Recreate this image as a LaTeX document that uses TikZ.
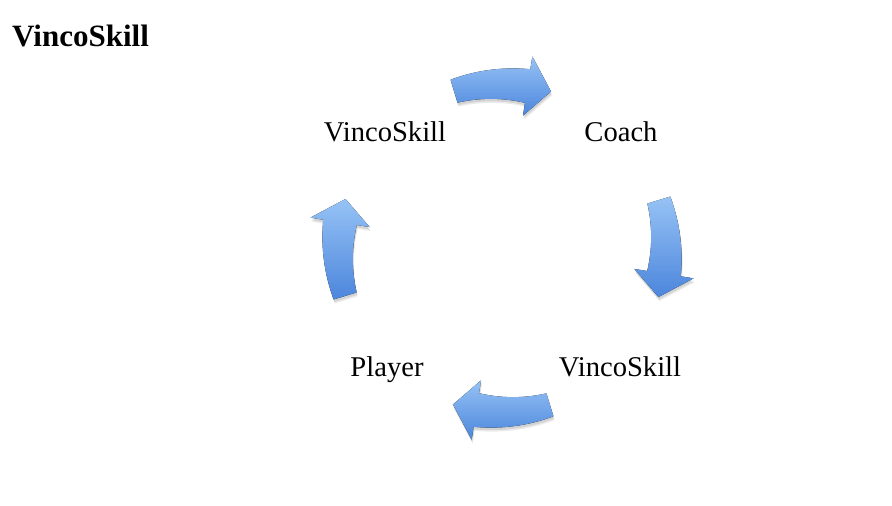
\documentclass[tikz,border=0pt]{standalone}
\usepackage{fontspec}
\setmainfont{Liberation Serif}
\definecolor{arrtop}{RGB}{150,194,245}
\definecolor{arrbot}{RGB}{76,134,220}
\tikzset{
  arrowfill/.style={top color=arrtop, bottom color=arrbot,
    preaction={fill=black, opacity=0.08, transform canvas={xshift=1pt, yshift=-4pt}},
    preaction={fill=black, opacity=0.10, transform canvas={xshift=0.5pt, yshift=-2.5pt}}},
  lbl/.style={anchor=base, inner sep=0pt, font=\fontsize{28.6}{32}\selectfont},
  ttl/.style={anchor=base west, inner sep=0pt, font=\fontsize{31}{34}\selectfont\bfseries}
}
\newcommand\cycarrow[1]{%
  \pgfmathsetmacro\ta{#1+17}%
  \pgfmathsetmacro\ba{#1-9}%
  \pgfmathsetmacro\pa{#1-17.4}%
  \fill[arrowfill] plot[domain=\ta:\ba, samples=30] (\x:{176+5*(\ta-\x)/26})
    -- (\ba:194) -- (\pa:164) -- (\ba:134) -- (\ba:147)
    -- plot[domain=\ba:\ta, samples=30] (\x:{152-5*(\ta-\x)/26}) -- cycle;
}
\begin{document}
\begin{tikzpicture}[x=1pt,y=1pt]
\useasboundingbox (0,0) rectangle (892,506);
\fill[white] (0,0) rectangle (892,506);
\begin{scope}[shift={(502,258)}]
  \cycarrow{90}
  \cycarrow{0}
  \cycarrow{-90}
  \cycarrow{180}
\end{scope}
\node[ttl] (title) at (12,459) {VincoSkill};
\node[lbl] (vs1) at (385,364) {VincoSkill};
\node[lbl] (coach) at (621,364) {Coach};
\node[lbl] (vs2) at (620,129) {VincoSkill};
\node[lbl] (player) at (387,129) {Player};
\end{tikzpicture}
\end{document}
